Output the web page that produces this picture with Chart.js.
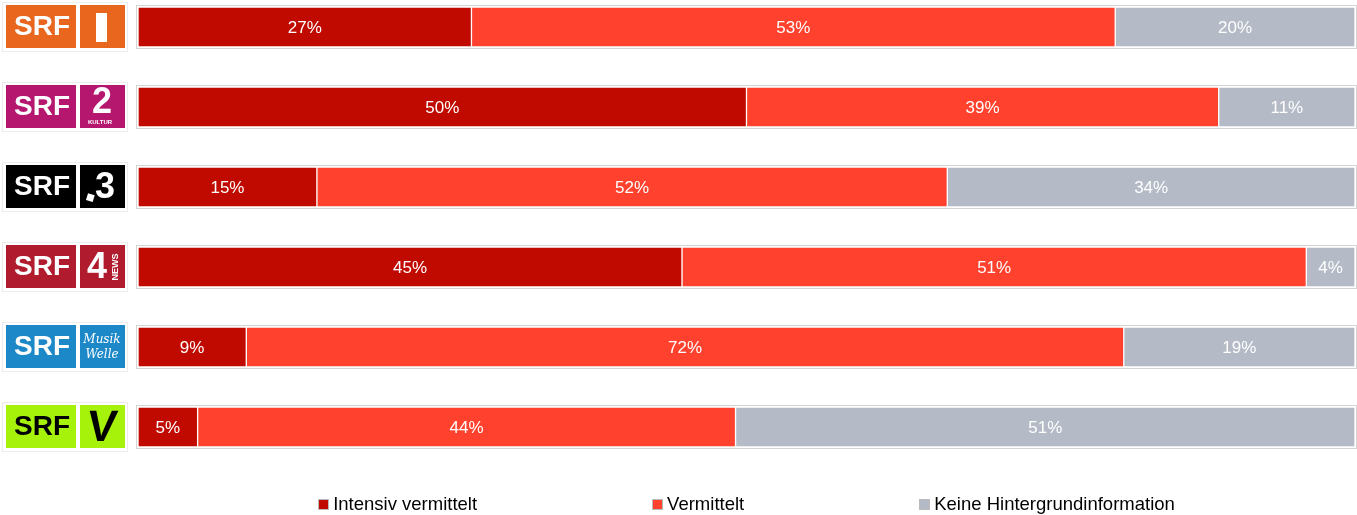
<!DOCTYPE html>
<html>
<head>
<meta charset="utf-8">
<script src="https://cdn.jsdelivr.net/npm/chart.js@4"></script>
<style>
  body { margin: 0; background: #fff; font-family: "Liberation Sans", Arial, sans-serif; }
  #wrap { position: relative; width: 1357px; height: 515px; }
  #legend { position: absolute; left: 138px; width: 1217px; top: 494px; display: flex; justify-content: center; gap: 175px; font-size: 18.5px; line-height: 20px; color: #000; }
  #legend span.item { display: flex; align-items: center; white-space: nowrap; }
  #legend i { display: inline-block; width: 9px; height: 9px; border: 1px solid #bbb; margin-right: 4px; }
</style>
</head>
<body>
<div id="wrap">
  <canvas id="myChart"></canvas>
  <div id="legend"></div>
</div>
<script>
const channels = ['SRF 1', 'SRF 2 Kultur', 'SRF 3', 'SRF 4 News', 'SRF Musikwelle', 'SRF Virus'];
const intensiv = [27.4, 50.0, 14.7, 44.7, 8.9, 4.9];
const vermittelt = [52.9, 38.8, 51.8, 51.3, 72.1, 44.2];
const keine = [19.7, 11.2, 33.5, 4.0, 19.0, 50.9];
const seriesNames = ['Intensiv vermittelt', 'Vermittelt', 'Keine Hintergrundinformation'];
const seriesColors = ['#c00a00', '#ff412d', '#b4bac6'];

// logo look per channel: box colour, text colour, second mark
const logoColors = ['#e8661e', '#b5176f', '#000000', '#b01c2e', '#1c88c7', '#a6f20a'];
const logoInk = ['#fff', '#fff', '#fff', '#fff', '#fff', '#000'];

function drawMark(ctx, i, cx, cy) {
  ctx.fillStyle = logoInk[i];
  ctx.textAlign = 'center';
  ctx.textBaseline = 'middle';
  if (i === 0) {
    ctx.fillRect(cx - 6, cy - 14, 11, 29);
  } else if (i === 1) {
    ctx.font = 'bold 36px "Liberation Sans", Arial';
    ctx.fillText('2', cx, cy - 4);
    ctx.font = 'bold 6px "Liberation Sans", Arial';
    ctx.fillText('KULTUR', cx - 2, cy + 15);
  } else if (i === 2) {
    ctx.font = 'bold 36px "Liberation Sans", Arial';
    ctx.fillText('3', cx + 3, cy + 1);
    ctx.save();
    ctx.translate(cx - 12, cy + 10);
    ctx.rotate(0.3);
    ctx.fillRect(-3, -3, 7, 7);
    ctx.restore();
  } else if (i === 3) {
    ctx.font = 'bold 36px "Liberation Sans", Arial';
    ctx.fillText('4', cx - 5, cy + 1);
    ctx.save();
    ctx.translate(cx + 14, cy);
    ctx.rotate(-Math.PI / 2);
    ctx.font = 'bold 9px "Liberation Sans", Arial';
    ctx.fillText('NEWS', 0, 0);
    ctx.restore();
  } else if (i === 4) {
    ctx.font = 'italic 12px "DejaVu Serif", serif';
    ctx.fillText('Musik', cx, cy - 7);
    ctx.fillText('Welle', cx, cy + 8);
  } else {
    ctx.save();
    ctx.translate(cx, cy);
    ctx.transform(1, 0, -0.12, 1, 0, 0);
    ctx.font = 'bold 44px "Liberation Sans", Arial';
    ctx.fillText('V', 0, 2);
    ctx.restore();
  }
}

const logoPlugin = {
  id: 'logos',
  afterDraw(chart) {
    const ctx = chart.ctx;
    const y = chart.scales.y;
    ctx.save();
    channels.forEach((name, i) => {
      const cy = y.getPixelForValue(i);
      ctx.strokeStyle = '#ececec';
      ctx.lineWidth = 1;
      ctx.strokeRect(2.5, cy - 24.5, 125, 49);
      ctx.fillStyle = logoColors[i];
      ctx.fillRect(6, cy - 22, 70, 43);
      ctx.fillRect(80, cy - 22, 45, 43);
      ctx.fillStyle = logoInk[i];
      ctx.font = 'bold 28px "Liberation Sans", Arial';
      ctx.textAlign = 'center';
      ctx.textBaseline = 'middle';
      ctx.fillText('SRF', 42, cy);
      drawMark(ctx, i, 102, cy);
    });
    ctx.restore();
  }
};

const barLabelPlugin = {
  id: 'barLabels',
  afterDatasetsDraw(chart) {
    const ctx = chart.ctx;
    const x = chart.scales.x;
    ctx.save();
    // light outline round every bar
    chart.getDatasetMeta(0).data.forEach(bar => {
      const left = x.getPixelForValue(0);
      const right = x.getPixelForValue(100);
      ctx.strokeStyle = '#d4d4d4';
      ctx.lineWidth = 1;
      ctx.strokeRect(Math.round(left) - 1.5, Math.round(bar.y - 20) - 1.5, Math.round(right - left) + 3, 43);
    });
    ctx.fillStyle = '#fff';
    ctx.font = '17px "Liberation Sans", Arial';
    ctx.textAlign = 'center';
    ctx.textBaseline = 'middle';
    chart.data.datasets.forEach((ds, d) => {
      chart.getDatasetMeta(d).data.forEach((bar, j) => {
        ctx.fillText(Math.round(ds.data[j]) + '%', (bar.x + bar.base) / 2, bar.y + 1);
      });
    });
    ctx.restore();
  }
};

const ctx = document.getElementById('myChart').getContext('2d');
const myChart = new Chart(ctx, {
  type: 'bar',
  data: {
    labels: channels,
    datasets: [intensiv, vermittelt, keine].map((values, i) => ({
      label: seriesNames[i],
      data: values,
      backgroundColor: seriesColors[i],
      borderColor: '#ffffff',
      borderWidth: 1,
      borderSkipped: false,
      barThickness: 40,
      clip: false
    }))
  },
  options: {
    indexAxis: 'y',
    responsive: true,
    maintainAspectRatio: false,
    animation: false,
    layout: { padding: { left: 138, right: 2, top: 27, bottom: 88 } },
    scales: {
      x: { stacked: true, min: 0, max: 100, display: false },
      y: { stacked: true, display: false, offset: false }
    },
    plugins: {
      legend: { display: false },
      tooltip: { enabled: false }
    }
  },
  plugins: [logoPlugin, barLabelPlugin]
});

const legend = document.getElementById('legend');
seriesNames.forEach((name, i) => {
  const item = document.createElement('span');
  item.className = 'item';
  const box = document.createElement('i');
  box.style.background = seriesColors[i];
  item.appendChild(box);
  item.appendChild(document.createTextNode(name));
  legend.appendChild(item);
});
</script>
</body>
</html>
